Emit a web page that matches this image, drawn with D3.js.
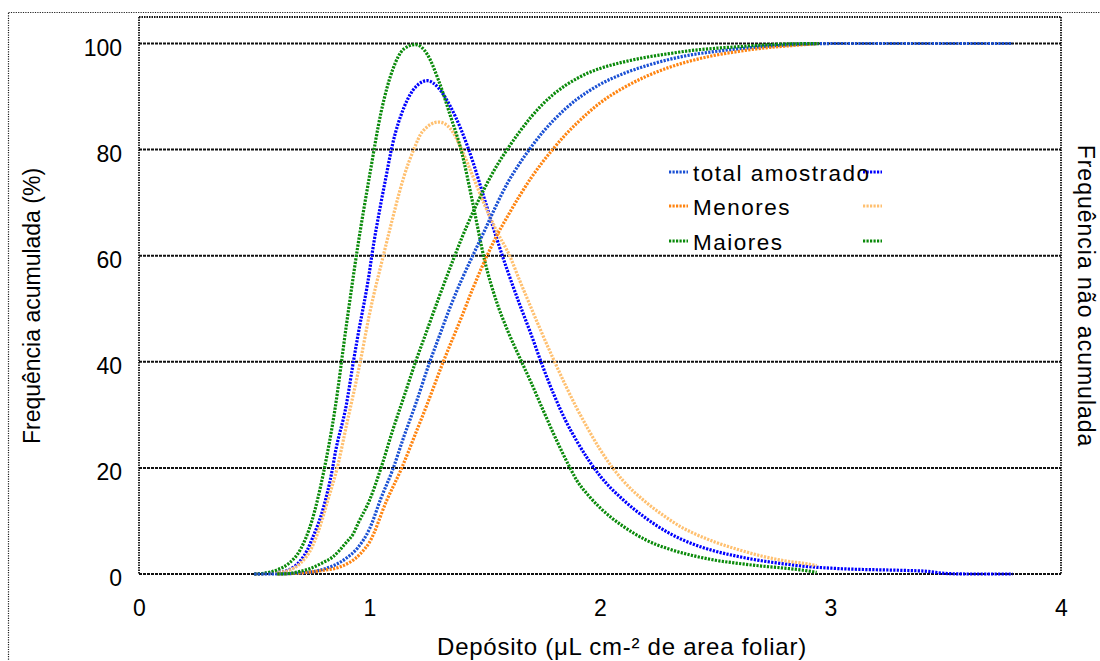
<!DOCTYPE html>
<html><head><meta charset="utf-8">
<script src="https://cdn.jsdelivr.net/npm/d3@7"></script>
<style>body{margin:0;background:#fff}svg{display:block}text{font-family:"Liberation Sans",Arial,sans-serif;fill:#000}</style>
</head><body><svg id="c" width="1100" height="661"></svg>
<script>
// ---- data (x = depósito, y = %) ----
const xTicks = [0, 1, 2, 3, 4];
const yTicks = [0, 20, 40, 60, 80, 100];
const seriesNames = ["total amostrado", "Menores", "Maiores"];

// cumulative frequency (left axis)
const totalCum = [[0.5,0],[0.6,0],[0.7,0.2],[0.75,0.4],[0.8,0.9],[0.85,1.7],[0.9,3],[0.95,5],[1.0,8.5],[1.05,14.3],[1.1,19.6],[1.15,26],[1.2,32],[1.26,39.8],[1.3,44.5],[1.35,50.3],[1.4,55.5],[1.45,60.2],[1.5,64.8],[1.55,69.5],[1.6,73.8],[1.65,77.3],[1.7,80.4],[1.75,83.2],[1.8,85.6],[1.85,87.7],[1.9,89.5],[1.95,91],[2.0,92.3],[2.1,94.3],[2.2,95.8],[2.3,97],[2.4,97.9],[2.5,98.5],[2.6,99],[2.7,99.4],[2.8,99.7],[2.9,99.9],[3.0,100],[3.2,100],[3.4,100],[3.6,100],[3.79,100]];
const menoresCum = [[0.6,0],[0.7,0.2],[0.8,0.7],[0.87,1.3],[0.96,3.8],[1.0,6],[1.075,13.9],[1.14,20],[1.2,26.5],[1.25,32],[1.32,40],[1.4,48.5],[1.45,54],[1.51,60],[1.55,63.6],[1.6,67.5],[1.65,71.2],[1.7,74.6],[1.75,77.6],[1.8,80.3],[1.85,82.8],[1.9,85],[1.95,87],[2.0,88.8],[2.05,90.3],[2.1,91.6],[2.2,93.8],[2.3,95.5],[2.4,96.8],[2.5,97.8],[2.6,98.5],[2.7,99.1],[2.8,99.5],[2.95,100]];
const maioresCum = [[0.6,0],[0.65,0.1],[0.7,0.5],[0.74,1.0],[0.8,2.2],[0.84,3.2],[0.9,6],[0.93,7.6],[0.95,9.5],[1.0,13.9],[1.05,20],[1.1,27],[1.15,33.5],[1.2,40],[1.25,46],[1.3,52],[1.37,60],[1.4,63.3],[1.45,68.3],[1.5,72.8],[1.55,76.8],[1.6,80.2],[1.65,83.3],[1.7,86.1],[1.75,88.5],[1.8,90.5],[1.85,92.1],[1.9,93.4],[1.95,94.5],[2.0,95.3],[2.1,96.5],[2.2,97.4],[2.3,98.1],[2.4,98.7],[2.5,99.1],[2.6,99.4],[2.7,99.7],[2.8,99.9],[2.95,100]];

// non-cumulative frequency (right axis)
const totalFreq = [[0.5,0],[0.55,0.1],[0.6,0.3],[0.65,0.8],[0.7,2.5],[0.73,4.5],[0.75,6.5],[0.8,12.5],[0.84,20],[0.85,22.5],[0.9,32],[0.93,40],[0.95,45],[1.0,57],[1.01,60],[1.05,70],[1.07,74.5],[1.1,81],[1.15,88],[1.2,91.8],[1.25,93],[1.3,91.6],[1.35,88.2],[1.4,83.5],[1.45,77.5],[1.5,70.5],[1.55,63.5],[1.6,57],[1.65,51],[1.7,45.3],[1.75,39.3],[1.8,33.8],[1.85,29],[1.9,25],[1.95,21.5],[2.0,18.5],[2.1,14],[2.2,10.5],[2.3,7.7],[2.4,5.7],[2.5,4.3],[2.6,3.3],[2.7,2.5],[2.8,1.9],[2.9,1.4],[3.0,1.1],[3.1,0.9],[3.2,0.8],[3.3,0.7],[3.42,0.5],[3.5,0.1],[3.6,0],[3.79,0]];
const menoresFreq = [[0.5,0],[0.55,0.1],[0.6,0.3],[0.65,0.7],[0.7,2],[0.75,5],[0.8,11],[0.82,14],[0.86,20],[0.9,28],[0.96,40],[1.0,49],[1.06,60],[1.1,67],[1.13,72],[1.15,75],[1.19,79.8],[1.23,83.4],[1.3,85.2],[1.35,84],[1.4,80],[1.45,74.8],[1.5,69.5],[1.55,64.8],[1.61,59.8],[1.65,55.5],[1.7,50.3],[1.75,45.2],[1.8,40.3],[1.85,35.6],[1.9,31.2],[1.95,27.2],[2.0,23.5],[2.05,20.3],[2.1,17.6],[2.2,13.5],[2.3,10.3],[2.35,8.9],[2.4,7.8],[2.5,6],[2.6,4.6],[2.7,3.4],[2.8,2.5],[2.9,1.9],[2.94,1.6]];
const maioresFreq = [[0.5,0],[0.55,0.2],[0.6,0.8],[0.65,2],[0.7,4.6],[0.75,10],[0.8,19],[0.85,31],[0.9,47],[0.95,62],[1.0,75],[1.05,87],[1.1,95],[1.15,99],[1.2,99.8],[1.25,98],[1.3,93],[1.35,86.5],[1.4,79.5],[1.45,69.5],[1.5,59],[1.55,51.5],[1.6,45.8],[1.66,40],[1.7,36.2],[1.75,31.2],[1.8,26.3],[1.87,20],[1.9,17.6],[1.95,14.8],[2.0,12.5],[2.05,10.6],[2.1,9],[2.15,7.6],[2.2,6.4],[2.3,4.7],[2.4,3.5],[2.5,2.6],[2.6,2.0],[2.7,1.5],[2.8,1.1],[2.9,0.6],[2.94,0.3]];

const cumColors = ["#1a50d4", "#ff8410", "#0a8a0a"];
const freqColors = ["#0000ff", "#ffc070", "#0a8a0a"];

// ---- drawing ----
const svg = d3.select("#c");
const x = d3.scaleLinear().domain([0, 4]).range([139, 1061]);
const y = d3.scaleLinear().domain([0, 105]).range([574, 17]);

// outer dotted border
svg.append("rect").attr("x", 8.5).attr("y", 12.5).attr("width", 1200).attr("height", 800)
  .attr("fill", "none").attr("stroke", "#222").attr("stroke-width", 1.2).attr("stroke-dasharray", "1.2,1.2");

// gridlines
svg.append("g").selectAll("line").data(yTicks.filter(d => d > 0)).join("line")
  .attr("x1", x(0)).attr("x2", x(4)).attr("y1", d => y(d)).attr("y2", d => y(d))
  .attr("stroke", "#111").attr("stroke-width", 2).attr("stroke-dasharray", "3,1");

// plot frame
const fr = svg.append("g").attr("fill", "none").attr("stroke", "#111").attr("stroke-width", 1.8).attr("stroke-dasharray", "1.5,1");
fr.append("line").attr("x1", x(0)).attr("x2", x(4)).attr("y1", y(105)).attr("y2", y(105));
fr.append("line").attr("x1", x(0)).attr("x2", x(0)).attr("y1", y(105)).attr("y2", y(0));
fr.append("line").attr("x1", x(4)).attr("x2", x(4)).attr("y1", y(105)).attr("y2", y(0));
fr.append("line").attr("x1", x(0)).attr("x2", x(4)).attr("y1", y(0)).attr("y2", y(0)).attr("stroke-width", 2).attr("stroke-dasharray", "3,1");

// axes (labels only)
const FONT = '"Liberation Sans", Arial, sans-serif';
const yAxis = d3.axisLeft(y).tickValues(yTicks).tickSize(0).tickPadding(17);
const gy = svg.append("g").attr("transform", `translate(${x(0)},0)`).call(yAxis);
gy.select(".domain").remove();
gy.selectAll("text").attr("font-size", 23).attr("font-family", FONT).attr("fill", "#000").attr("dy", "0.5em");

const xAxis = d3.axisBottom(x).tickValues(xTicks).tickFormat(d3.format("d")).tickSize(0).tickPadding(26);
const gx = svg.append("g").attr("transform", `translate(0,${y(0)})`).call(xAxis);
gx.select(".domain").remove();
gx.selectAll("text").attr("font-size", 23).attr("font-family", FONT).attr("fill", "#000");

// axis titles
svg.append("text").attr("transform", "translate(40,306) rotate(-90)").attr("text-anchor", "middle")
  .attr("font-size", 23).text("Frequência acumulada (%)");
svg.append("text").attr("transform", "translate(1078,296) rotate(90)").attr("text-anchor", "middle")
  .attr("font-size", 23).attr("letter-spacing", 1).text("Frequência não acumulada");
svg.append("text").attr("x", 622).attr("y", 655).attr("text-anchor", "middle")
  .attr("font-size", 24).attr("letter-spacing", 0.75).text("Depósito (μL cm-² de area foliar)");

// lines
const line = d3.line().x(d => x(d[0])).y(d => y(d[1])).curve(d3.curveMonotoneX);
const freqSeries = [totalFreq, menoresFreq, maioresFreq];
const cumSeries = [totalCum, menoresCum, maioresCum];
const gl = svg.append("g").attr("fill", "none").attr("stroke-width", 3.2).attr("stroke-dasharray", "2.2,1.3");
freqSeries.forEach((s, i) => gl.append("path").attr("d", line(s)).attr("stroke", freqColors[i]));
cumSeries.forEach((s, i) => gl.append("path").attr("d", line(s)).attr("stroke", cumColors[i]));

// legend
const rowsY = [172, 206, 241];
const lg = svg.append("g");
seriesNames.forEach((name, i) => {
  lg.append("line").attr("x1", 669).attr("x2", 688).attr("y1", rowsY[i]).attr("y2", rowsY[i])
    .attr("stroke", cumColors[i]).attr("stroke-width", 3.2).attr("stroke-dasharray", "2.2,1.3");
  lg.append("line").attr("x1", 863).attr("x2", 882).attr("y1", rowsY[i]).attr("y2", rowsY[i])
    .attr("stroke", freqColors[i]).attr("stroke-width", 3.2).attr("stroke-dasharray", "2.2,1.3");
  lg.append("text").attr("x", 693).attr("y", rowsY[i] + 8.5).attr("font-size", 22.5)
    .attr("letter-spacing", 1.5).text(name);
});
</script></body></html>
